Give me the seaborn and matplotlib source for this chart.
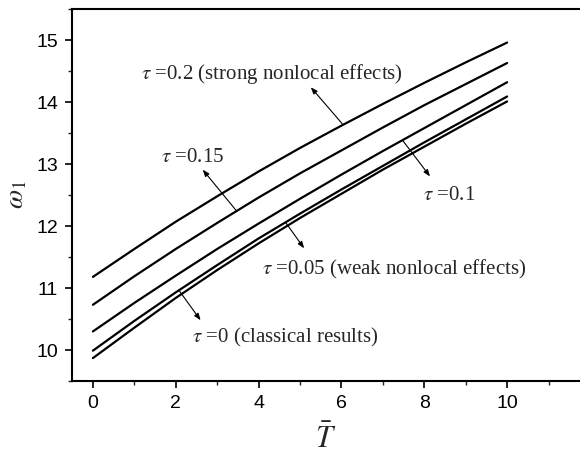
import numpy as np
import pandas as pd
import matplotlib
matplotlib.use("Agg")
import matplotlib.pyplot as plt
import seaborn as sns
from matplotlib.ticker import MultipleLocator

T_vals = [0, 1, 2, 3, 4, 5, 6, 7, 8, 9, 10]
tau_labels = ["0.2", "0.15", "0.1", "0.05", "0"]
w_tau02 = [11.18, 11.63, 12.07, 12.48, 12.88, 13.26, 13.62, 13.97, 14.31, 14.64, 14.96]
w_tau015 = [10.73, 11.19, 11.63, 12.05, 12.46, 12.85, 13.22, 13.59, 13.95, 14.29, 14.63]
w_tau01 = [10.30, 10.76, 11.20, 11.63, 12.04, 12.44, 12.83, 13.21, 13.58, 13.95, 14.32]
w_tau005 = [9.99, 10.47, 10.93, 11.37, 11.80, 12.20, 12.59, 12.97, 13.35, 13.72, 14.09]
w_tau0 = [9.87, 10.36, 10.84, 11.29, 11.72, 12.13, 12.52, 12.91, 13.28, 13.65, 14.01]

series = [w_tau02, w_tau015, w_tau01, w_tau005, w_tau0]
rows = []
for lab, ys in zip(tau_labels, series):
    for t, y in zip(T_vals, ys):
        rows.append({"T": t, "omega": y, "tau": lab})
df = pd.DataFrame(rows)

# annotation texts, label positions, arrow tail (on curve) and head
ann_texts = [r"$\tau$ =0.2 (strong nonlocal effects)", r"$\tau$ =0.15", r"$\tau$ =0.1",
             r"$\tau$ =0.05 (weak nonlocal effects)", r"$\tau$ =0 (classical results)"]
ann_text_xy = [(1.15, 14.46), (1.65, 13.11), (7.96, 12.49), (4.09, 11.30), (2.40, 10.21)]
arrow_tail = [(6.02, 13.65), (3.46, 12.25), (7.48, 13.38), (4.65, 12.06), (2.07, 10.97)]
arrow_head = [(5.26, 14.24), (2.65, 12.91), (8.14, 12.80), (5.10, 11.64), (2.60, 10.48)]

sns.set_style("ticks")
plt.rcParams["mathtext.fontset"] = "stix"
plt.rcParams["font.family"] = ["Liberation Sans", "DejaVu Sans"]

fig = plt.figure(figsize=(5.8, 4.55), dpi=100)
ax = fig.add_axes([0.124, 0.1626, 0.876, 0.8174])

sns.lineplot(data=df, x="T", y="omega", hue="tau", palette=["black"] * 5,
             linewidth=1.6, legend=False, ax=ax, sort=True)

ax.set_xlim(-0.507, 11.76)
ax.set_ylim(9.5, 15.5)
ax.xaxis.set_major_locator(MultipleLocator(2))
ax.xaxis.set_minor_locator(MultipleLocator(1))
ax.yaxis.set_major_locator(MultipleLocator(1))
ax.yaxis.set_minor_locator(MultipleLocator(0.5))
ax.tick_params(which="major", direction="out", length=5, width=1.2, labelsize=14,
               colors="black", pad=5)
ax.tick_params(which="minor", direction="out", length=3, width=1.0)
for s in ["left", "bottom", "top"]:
    ax.spines[s].set_linewidth(1.5)
    ax.spines[s].set_color("black")
ax.spines["right"].set_visible(False)

ax.set_xlabel(r"$\bar{T}$", fontsize=22, labelpad=9)
ax.set_ylabel(r"$\omega_1$", fontsize=20, labelpad=5)

for txt, pos, tail, head in zip(ann_texts, ann_text_xy, arrow_tail, arrow_head):
    ax.text(pos[0], pos[1], txt, fontsize=15, family="Liberation Serif",
            ha="left", va="center")
    ax.annotate("", xy=head, xytext=tail,
                arrowprops=dict(arrowstyle="-|>,head_length=0.4,head_width=0.15",
                                color="black", lw=0.8, shrinkA=0, shrinkB=0))

fig.savefig("out.png", dpi=100)
